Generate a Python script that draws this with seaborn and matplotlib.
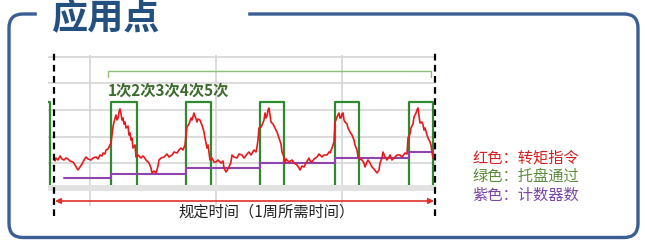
import numpy as np
import pandas as pd
import matplotlib
matplotlib.use("Agg")
import matplotlib.pyplot as plt
import seaborn as sns
from matplotlib.patches import FancyBboxPatch, Rectangle

# ---- data (time in arbitrary units, level in arbitrary units) ----
torque_t = [0, 1, 2, 4, 6, 8, 10, 12, 14, 16, 19, 21, 24, 26, 28, 30, 32, 34, 37, 39,
            42, 44, 46, 48, 49, 51, 52, 54, 55, 57, 58, 59, 60, 62, 63, 64, 65, 66, 67,
            68, 69, 70, 71, 72, 74, 75, 76, 77, 78, 79, 81, 82, 84, 87, 89, 90, 92, 95,
            97, 98, 100, 102, 104, 105, 107, 110, 112, 113, 115, 118, 120, 123, 125, 127,
            129, 131, 132, 133, 135, 137, 138, 140, 141, 143, 144, 146, 147, 148, 150, 151,
            153, 154, 156, 158, 160, 162, 164, 167, 169, 170, 172, 174, 175, 177, 178, 180,
            183, 185, 188, 190, 191, 193, 195, 197, 200, 202, 203, 204, 205, 207, 208, 210,
            211, 212, 213, 214, 215, 216, 217, 219, 221, 223, 225, 227, 228, 230, 231, 232,
            233, 235, 238, 240, 243, 245, 246, 248, 250, 252, 255, 256, 258, 260, 263, 265,
            268, 270, 273, 275, 276, 278, 280, 281, 283, 285, 286, 287, 288, 289, 290, 291,
            293, 294, 296, 298, 300, 301, 303, 304, 306, 308, 310, 311, 313, 314, 316, 318,
            320, 323, 325, 326, 328, 329, 331, 333, 335, 336, 338, 341, 343, 346, 348, 351,
            353, 354, 356, 357, 359, 360, 361, 362, 363, 364, 365, 366, 368, 369, 370, 371,
            373, 374, 376, 377, 378, 379]
torque_v = [33, 29, 32, 30, 34, 31, 30, 32, 31, 29, 28, 25, 20, 23, 26, 30, 33, 31, 30, 32,
            33, 31, 35, 34, 37, 36, 40, 41, 43, 47, 55, 63, 68, 75, 70, 72, 78, 81, 76,
            70, 72, 66, 68, 62, 64, 55, 57, 50, 52, 42, 45, 33, 35, 32, 34, 33, 30, 27,
            22, 17, 19, 17, 24, 30, 32, 33, 35, 36, 33, 35, 38, 37, 40, 42,
            40, 45, 55, 63, 66, 72, 70, 77, 74, 68, 71, 70, 67, 65, 58, 52,
            42, 45, 30, 32, 28, 28, 30, 27, 29, 22, 18, 21, 23, 28, 35, 33,
            32, 36, 35, 32, 33, 36, 38, 35, 40, 38, 43, 50, 62, 63, 65, 70,
            77, 72, 74, 80, 82, 75, 68, 66, 62, 58, 52, 46, 38, 33, 27, 31,
            30, 28, 30, 27, 25, 22, 20, 24, 23, 27, 32, 29, 28, 31, 33, 36,
            33, 35, 35, 38, 37, 42, 48, 68, 73, 77, 72, 72, 76, 77, 70, 68,
            66, 62, 58, 55, 50, 45, 40, 33, 31, 30, 27, 23, 28, 30, 27, 23,
            21, 17, 20, 27, 32, 38, 33, 30, 33, 35, 30, 33, 35, 35, 33, 37,
            36, 52, 56, 62, 66, 73, 75, 77, 80, 82, 74, 67, 68, 65, 60, 62,
            55, 52, 48, 45, 38, 32]

pallet_t = [-6, -4, 57, 83, 132, 157, 206, 230, 281, 305, 355, 379, 382]
pallet_v = [88, 2, 88, 2, 88, 2, 88, 2, 88, 2, 88, 2, 2]

counter_t = [10, 57, 132, 206, 281, 355, 379]
counter_v = [12, 16, 22, 27, 32, 38, 38]

grid_x = [36, 162, 288]
grid_y = [26.7, 53.3, 80, 106.7, 133.3]
period = [0, 381]
cycle_span = [54, 377]

title = "应用点"
cycle_label = "1次2次3次4次5次"
period_label = "规定时间（1周所需时间）"
legend_labels = ["红色：转矩指令", "绿色：托盘通过", "紫色：计数器数"]
legend_colors = ["#d42020", "#5b8c3c", "#7a45a8"]

RED, GREEN, PURPLE = "#e8191c", "#2f8a2f", "#8e44ad"

sns.set_style("white")
plt.rcParams["font.family"] = ["Noto Sans CJK SC", "DejaVu Sans"]

fig = plt.figure(figsize=(6.45, 2.41), dpi=100)

# background / decoration layer in pixel units
bg = fig.add_axes([0, 0, 1, 1])
bg.set_xlim(0, 645)
bg.set_ylim(241, 0)
bg.axis("off")
bg.add_patch(FancyBboxPatch((9, 14), 629, 223.5,
                            boxstyle="round,pad=0,rounding_size=14",
                            fill=False, ec="#3b5f95", lw=2.4, zorder=1))
bg.add_patch(Rectangle((37, 9), 210, 10, color="white", zorder=2))
bg.text(51, 19, title, fontsize=26, fontweight="bold", color="#24507f",
        ha="left", va="center", zorder=3)
for i, (lab, col) in enumerate(zip(legend_labels, legend_colors)):
    bg.text(472, 158 + i * 18.5, lab, fontsize=11, color=col, ha="left",
            va="center", fontweight="medium")

# chart axes
ax = fig.add_axes([48 / 645, 1 - 206 / 241, 388 / 645, 151 / 241])
ax.set_facecolor("none")
ax.set_xlim(-6, 382)
ax.set_ylim(-16, 135)
ax.set_xticks(grid_x)
ax.set_yticks(grid_y)
ax.grid(True, color="#d6d6d6", lw=1.2)
ax.tick_params(length=0, labelbottom=False, labelleft=False)
for s in ax.spines.values():
    s.set_visible(False)

sns.lineplot(x=pallet_t, y=pallet_v, ax=ax, color=GREEN, lw=1.6,
             drawstyle="steps-post", estimator=None, sort=False, zorder=3)
ax.axhspan(-1, 5, color="#e2e2e2", zorder=4, lw=0)
sns.lineplot(x=counter_t, y=counter_v, ax=ax, color=PURPLE, lw=1.5,
             drawstyle="steps-post", estimator=None, sort=False, zorder=5)
sns.lineplot(x=torque_t, y=torque_v, ax=ax, color=RED, lw=1.2,
             estimator=None, sort=False, zorder=6)

# period markers
for px in period:
    ax.plot([px, px], [-26, 137], color="black", lw=1.6, ls=(0, (3, 2)),
            clip_on=False, zorder=7)
ax.annotate("", xy=(period[0] + 1, -11), xytext=(period[1] - 1, -11),
            arrowprops=dict(arrowstyle="<|-|>", color="#e0302a", lw=1.2,
                            mutation_scale=8, shrinkA=0, shrinkB=0),
            annotation_clip=False)
ax.text((period[0] + period[1]) / 2 + 22, -22, period_label, fontsize=11,
        ha="center", va="center", color="#222222", clip_on=False)

# cycle bracket
ax.plot([cycle_span[0], cycle_span[0], cycle_span[1], cycle_span[1]],
        [113, 119, 119, 113], color="#8cc07a", lw=1, clip_on=False)
ax.text(cycle_span[0], 99, cycle_label, fontsize=11, color="#3d6b2e",
        ha="left", va="center", fontweight="bold")

fig.savefig("out.png", dpi=100)
